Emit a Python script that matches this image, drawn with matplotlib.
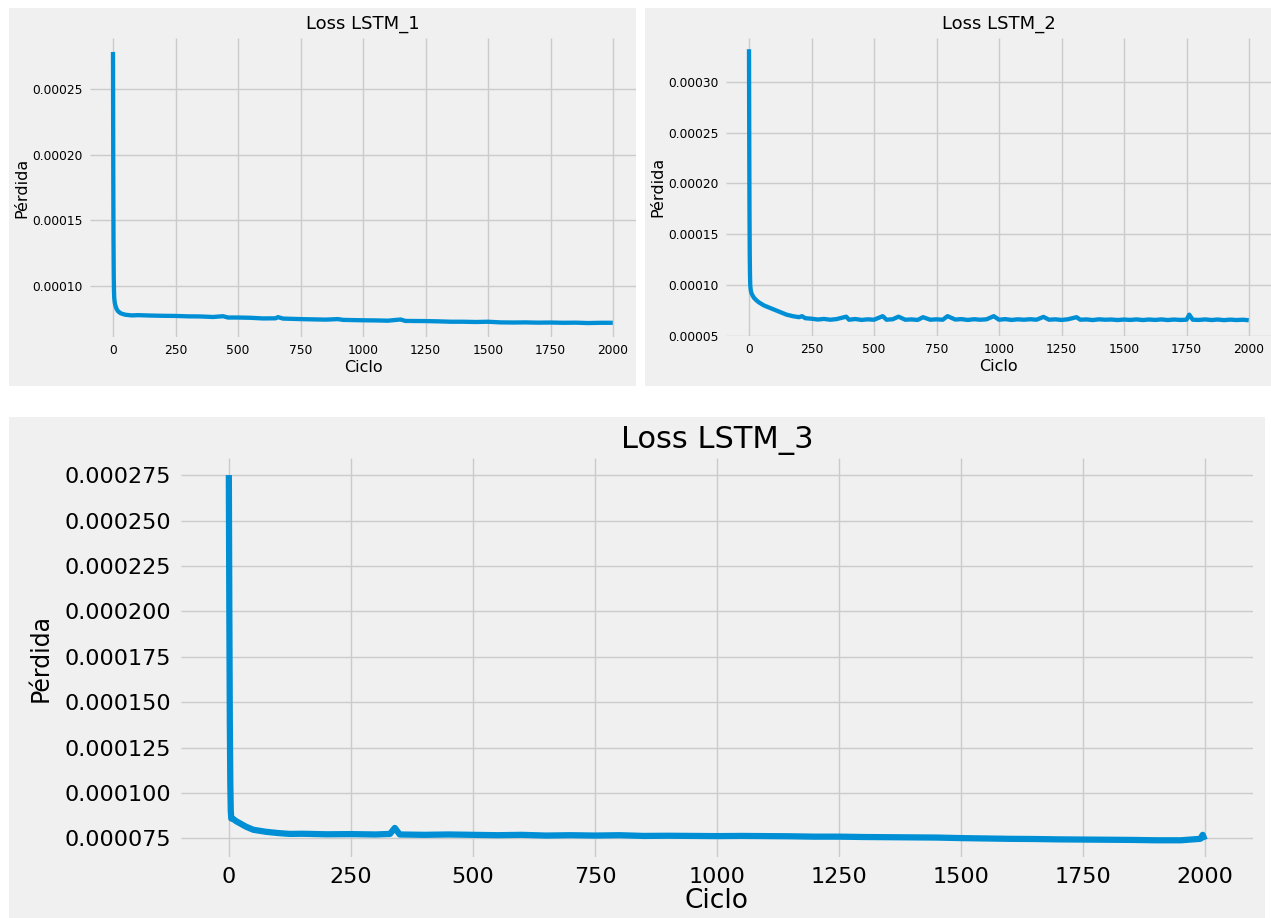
import matplotlib
matplotlib.use("Agg")
import matplotlib.pyplot as plt
from matplotlib.patches import Rectangle
from matplotlib.ticker import FormatStrFormatter

plt.style.use("fivethirtyeight")
plt.rcParams["font.family"] = ["DejaVu Sans"]

# loss per training cycle, read at selected cycles
epochs_1 = [0, 1, 2, 3, 4, 5, 7, 10, 15, 20, 30, 40, 50, 75, 100, 150, 200, 250,
            300, 350, 400, 440, 460, 500, 550, 600, 650, 660, 680, 750, 800, 850,
            900, 920, 1000, 1050, 1100, 1150, 1170, 1250, 1300, 1350, 1400, 1450,
            1500, 1550, 1600, 1650, 1700, 1750, 1800, 1850, 1900, 1950, 1999]
loss_1 = [2.78e-4, 1.90e-4, 1.35e-4, 1.08e-4, 9.6e-5, 9.1e-5, 8.75e-5, 8.5e-5,
          8.25e-5, 8.1e-5, 7.95e-5, 7.88e-5, 7.83e-5, 7.78e-5, 7.8e-5, 7.77e-5,
          7.75e-5, 7.74e-5, 7.71e-5, 7.7e-5, 7.66e-5, 7.72e-5, 7.62e-5, 7.62e-5,
          7.6e-5, 7.55e-5, 7.56e-5, 7.65e-5, 7.54e-5, 7.5e-5, 7.48e-5, 7.46e-5,
          7.5e-5, 7.44e-5, 7.41e-5, 7.4e-5, 7.38e-5, 7.47e-5, 7.36e-5, 7.35e-5,
          7.33e-5, 7.3e-5, 7.3e-5, 7.28e-5, 7.3e-5, 7.25e-5, 7.24e-5, 7.25e-5,
          7.23e-5, 7.24e-5, 7.22e-5, 7.23e-5, 7.2e-5, 7.22e-5, 7.22e-5]

epochs_2 = [0, 1, 2, 3, 4, 5, 7, 10, 15, 20, 30, 40, 50, 60, 75, 100, 125, 150,
            175, 200, 212, 225, 250, 275, 300, 325, 350, 389, 400, 425, 450, 475,
            500, 535, 550, 575, 598, 625, 650, 675, 696, 725, 750, 775, 794, 825,
            850, 875, 900, 925, 950, 979, 1000, 1025, 1050, 1075, 1100, 1125,
            1150, 1178, 1200, 1225, 1250, 1275, 1310, 1325, 1350, 1375, 1400,
            1425, 1450, 1475, 1500, 1525, 1550, 1575, 1600, 1625, 1650, 1675,
            1700, 1725, 1750, 1761, 1775, 1800, 1825, 1850, 1875, 1900, 1925,
            1950, 1975, 1999]
loss_2 = [3.32e-4, 2.4e-4, 1.7e-4, 1.3e-4, 1.1e-4, 1.0e-4, 9.5e-5, 9.2e-5,
          8.95e-5, 8.75e-5, 8.5e-5, 8.3e-5, 8.15e-5, 8.0e-5, 7.85e-5, 7.6e-5,
          7.35e-5, 7.1e-5, 6.95e-5, 6.85e-5, 6.95e-5, 6.75e-5, 6.7e-5, 6.62e-5,
          6.68e-5, 6.6e-5, 6.66e-5, 6.9e-5, 6.6e-5, 6.67e-5, 6.58e-5, 6.64e-5,
          6.6e-5, 6.95e-5, 6.6e-5, 6.65e-5, 6.9e-5, 6.6e-5, 6.63e-5, 6.58e-5,
          6.85e-5, 6.6e-5, 6.64e-5, 6.6e-5, 6.95e-5, 6.62e-5, 6.66e-5, 6.58e-5,
          6.65e-5, 6.6e-5, 6.64e-5, 6.95e-5, 6.6e-5, 6.66e-5, 6.58e-5, 6.64e-5,
          6.6e-5, 6.65e-5, 6.6e-5, 6.88e-5, 6.6e-5, 6.64e-5, 6.58e-5, 6.64e-5,
          6.85e-5, 6.6e-5, 6.63e-5, 6.57e-5, 6.64e-5, 6.6e-5, 6.62e-5, 6.57e-5,
          6.62e-5, 6.58e-5, 6.63e-5, 6.57e-5, 6.62e-5, 6.58e-5, 6.63e-5, 6.57e-5,
          6.62e-5, 6.58e-5, 6.6e-5, 7.1e-5, 6.6e-5, 6.58e-5, 6.63e-5, 6.57e-5,
          6.62e-5, 6.56e-5, 6.61e-5, 6.57e-5, 6.6e-5, 6.55e-5]

epochs_3 = [0, 1, 2, 3, 4, 5, 10, 15, 25, 35, 50, 75, 100, 125, 150, 200, 250,
            300, 330, 340, 350, 400, 450, 500, 550, 600, 650, 700, 750, 800, 850,
            900, 950, 1000, 1050, 1100, 1150, 1200, 1250, 1300, 1350, 1400, 1450,
            1500, 1550, 1600, 1650, 1700, 1750, 1800, 1850, 1900, 1950, 1990,
            1995, 1999]
loss_3 = [2.75e-4, 2.0e-4, 1.4e-4, 1.05e-4, 9.0e-5, 8.6e-5, 8.55e-5, 8.45e-5,
          8.3e-5, 8.15e-5, 7.98e-5, 7.87e-5, 7.8e-5, 7.75e-5, 7.76e-5, 7.73e-5,
          7.74e-5, 7.72e-5, 7.75e-5, 8.08e-5, 7.72e-5, 7.7e-5, 7.72e-5, 7.7e-5,
          7.68e-5, 7.7e-5, 7.66e-5, 7.68e-5, 7.66e-5, 7.68e-5, 7.64e-5, 7.65e-5,
          7.64e-5, 7.63e-5, 7.64e-5, 7.63e-5, 7.62e-5, 7.6e-5, 7.6e-5, 7.58e-5,
          7.57e-5, 7.56e-5, 7.55e-5, 7.52e-5, 7.5e-5, 7.48e-5, 7.47e-5, 7.45e-5,
          7.44e-5, 7.43e-5, 7.42e-5, 7.4e-5, 7.4e-5, 7.48e-5, 7.7e-5, 7.42e-5]

xticks = [0, 250, 500, 750, 1000, 1250, 1500, 1750, 2000]
yticks_1 = [1e-4, 1.5e-4, 2e-4, 2.5e-4]
yticks_2 = [5e-5, 1e-4, 1.5e-4, 2e-4, 2.5e-4, 3e-4]
yticks_3 = [7.5e-5, 1e-4, 1.25e-4, 1.5e-4, 1.75e-4, 2e-4, 2.25e-4, 2.5e-4, 2.75e-4]

W, H = 1271, 918
BG = "#f0f0f0"
BLUE = "#008fd5"

fig = plt.figure(figsize=(W / 100, H / 100), dpi=100)
fig.patch.set_facecolor("white")


def panel(left, top, right, bottom):
    fig.add_artist(Rectangle((left / W, 1 - bottom / H), (right - left) / W,
                             (bottom - top) / H, transform=fig.transFigure,
                             facecolor=BG, edgecolor="none", zorder=-10))


def axes_px(left, top, right, bottom):
    ax = fig.add_axes([left / W, 1 - bottom / H, (right - left) / W, (bottom - top) / H])
    ax.set_facecolor(BG)
    for s in ax.spines.values():
        s.set_visible(False)
    ax.grid(True, color="#cbcbcb", linewidth=1.0)
    ax.set_axisbelow(True)
    return ax


panel(9, 8, 636, 386)
panel(645, 8, 1271, 386)
panel(9, 417, 1265, 918)

# top left
ax1 = axes_px(90, 38, 636, 337)
ax1.plot(epochs_1, loss_1, color=BLUE, linewidth=3.1)
ax1.set_xlim(-92, 2092)
ax1.set_ylim(6.14e-5, 2.886e-4)
ax1.set_xticks(xticks)
ax1.set_yticks(yticks_1)
ax1.set_title("Loss LSTM_1", fontsize=13, pad=7)
ax1.set_xlabel("Ciclo", fontsize=11.5, labelpad=2)
ax1.set_ylabel("Pérdida", fontsize=11.5, labelpad=2)
ax1.tick_params(labelsize=8.8, length=0, pad=5)

# top right
ax2 = axes_px(726, 38, 1271, 336)
ax2.plot(epochs_2, loss_2, color=BLUE, linewidth=3.1)
ax2.set_xlim(-92, 2088)
ax2.set_ylim(5.02e-5, 3.43e-4)
ax2.set_xticks(xticks)
ax2.set_yticks(yticks_2)
ax2.set_title("Loss LSTM_2", fontsize=13, pad=7)
ax2.set_xlabel("Ciclo", fontsize=11.5, labelpad=2)
ax2.set_ylabel("Pérdida", fontsize=11.5, labelpad=2)
ax2.tick_params(labelsize=8.8, length=0, pad=5)

# bottom
ax3 = axes_px(181, 458, 1253, 857)
ax3.plot(epochs_3, loss_3, color=BLUE, linewidth=4.5)
ax3.set_xlim(-98, 2098)
ax3.set_ylim(6.48e-5, 2.844e-4)
ax3.set_xticks(xticks)
ax3.set_yticks(yticks_3)
ax3.yaxis.set_major_formatter(FormatStrFormatter("%.6f"))
ax3.set_title("Loss LSTM_3", fontsize=22, pad=7)
ax3.set_xlabel("Ciclo", fontsize=19, labelpad=1)
ax3.set_ylabel("Pérdida", fontsize=17, labelpad=9)
ax3.tick_params(labelsize=16, length=0, pad=7)

fig.savefig("out.png", dpi=100, facecolor=fig.get_facecolor())
